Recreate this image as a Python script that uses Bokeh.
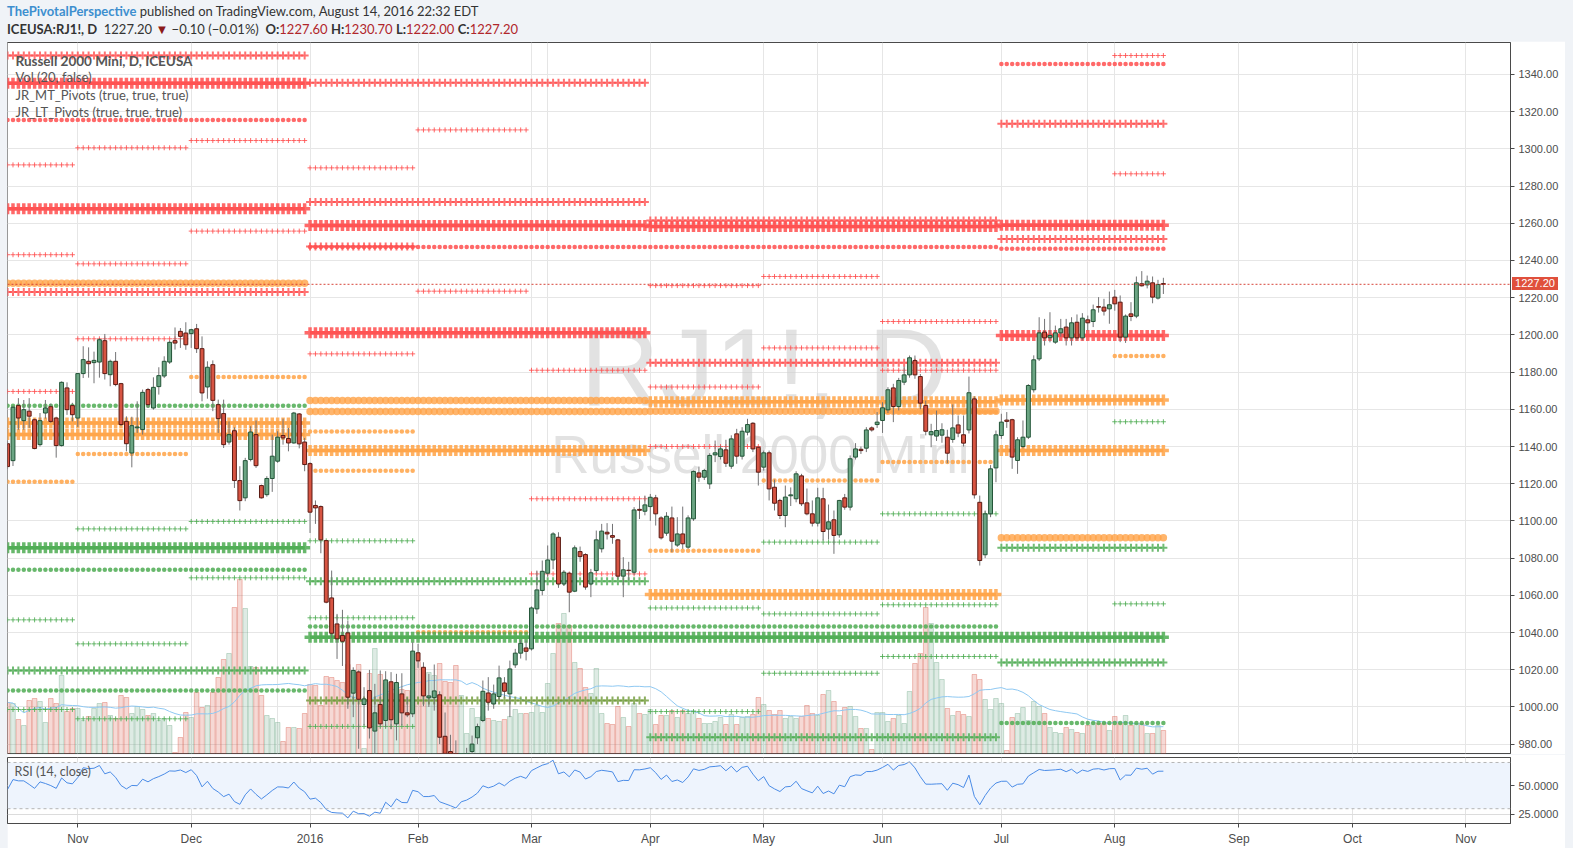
import numpy as np
import pandas as pd
from bokeh.plotting import figure
from bokeh.models import (Range1d, FixedTicker, Grid, Span, BoxAnnotation, Label, Div,
                          NumeralTickFormatter)
from bokeh.layouts import column
from bokeh.embed import file_html
from bokeh.resources import INLINE

# ---------------- data ----------------
# bar index 0 = 2015-10-14 ... 214 = 2016-08-12 (trading days)
OPEN = [1141.5, 1132.4, 1162, 1153.9, 1159, 1154.4, 1141, 1158, 1161.4, 1155.3,
        1140.5, 1171.5, 1162, 1155.3, 1179.2, 1185.8, 1185.1, 1185.4, 1196.9, 1178.6,
        1185.8, 1173.8, 1153.5, 1136.5, 1150, 1149.1, 1170.6, 1160.7, 1172.2, 1177.9,
        1185.4, 1196.9, 1201.9, 1201, 1200.7, 1203.3, 1192.6, 1172, 1184, 1162.5,
        1157.7, 1142.4, 1148.5, 1121.7, 1112.4, 1133, 1146.4, 1119, 1114.1, 1122.8,
        1132.1, 1145.9, 1144.3, 1141.9, 1157.5, 1142.4, 1130.8, 1108.3, 1107.7, 1089.4,
        1058.6, 1044.6, 1038.4, 1039.8, 1007.4, 1018.8, 1001.3, 1008.8, 987, 1001.3,
        992.7, 1013.5, 990.9, 1007, 996.8, 996.3, 1029.1, 1021.3, 1004.9, 1005,
        1006.5, 984.2, 976, 965, 957, 970, 976, 983.4, 992.7, 1007.5,
        1001.6, 1005.6, 1012.9, 1007, 1022.6, 1028.9, 1031.7, 1031.2, 1052.7, 1062.6,
        1071.9, 1079, 1091.2, 1066.1, 1071.9, 1062.2, 1083.5, 1081.9, 1066.1, 1073.3,
        1085, 1093.9, 1092.1, 1089.8, 1070.3, 1073.5, 1072.4, 1106.2, 1105.2, 1107.7,
        1112.4, 1101.6, 1093.4, 1101.6, 1087, 1093, 1085.9, 1101.1, 1125.8, 1123.5,
        1119.9, 1135.5, 1134.6, 1138.2, 1129.4, 1146.8, 1134.8, 1147.7, 1152.5, 1139.6,
        1128.9, 1136.6, 1118.1, 1111, 1102.9, 1113.5, 1111.9, 1124.2, 1109.7, 1103.8,
        1098.8, 1111.9, 1095.6, 1100.6, 1092.5, 1112.4, 1107.4, 1134.3, 1138.5, 1139.1,
        1150, 1151.8, 1154, 1159.7, 1171.5, 1161.5, 1174.6, 1178.5, 1186.2, 1177.6,
        1162, 1146.3, 1145.6, 1146.1, 1145, 1143.8, 1151.6, 1146.3, 1148.9, 1165.6,
        1110, 1081.8, 1103.8, 1128.5, 1145.9, 1154.2, 1154.4, 1132.5, 1140, 1145,
        1170.5, 1187.1, 1201.5, 1198.5, 1196.1, 1201.1, 1204.2, 1198.4, 1206.8, 1198.4,
        1208.1, 1207.2, 1215.2, 1214.9, 1214, 1220.3, 1217.6, 1198.8, 1211.3, 1210.1,
        1227.5, 1226.9, 1228, 1219.8, 1227.6]
HIGH = [1143, 1162, 1166, 1165, 1166, 1155, 1158, 1165, 1163, 1156,
        1175, 1174.5, 1163.5, 1179.5, 1193.9, 1193.3, 1191, 1198.3, 1200.5, 1186.7,
        1190.8, 1174.2, 1156.2, 1156, 1164.3, 1170.6, 1171.5, 1177.2, 1182.6, 1188.5,
        1196.9, 1204, 1203.7, 1206.8, 1203.3, 1205.9, 1199.2, 1185.8, 1186.3, 1165.2,
        1165.2, 1153.5, 1150.3, 1129.4, 1133.9, 1150.9, 1154, 1119.5, 1124, 1146.4,
        1148.2, 1155, 1150, 1158.6, 1158, 1144.6, 1131.5, 1111, 1108.3, 1089.8,
        1073.3, 1050, 1052.2, 1046.4, 1021.3, 1019.6, 1010.6, 1019.9, 1012.4, 1019.6,
        1019.2, 1018.7, 1017.8, 1018.1, 1005, 1034.8, 1033.9, 1024, 1017.8, 1022.8,
        1008.4, 997, 985, 982, 972, 978, 984.6, 991, 1014.2, 1016,
        1012, 1022.2, 1016, 1024.9, 1031.2, 1036, 1035.7, 1054, 1073.3, 1078.7,
        1086.8, 1093.9, 1093.9, 1073.5, 1072.4, 1086.8, 1086.2, 1082.6, 1074.2, 1094.8,
        1098.4, 1098.8, 1098.4, 1090.3, 1080.5, 1078, 1107.4, 1111, 1113.6, 1114.5,
        1114, 1102.5, 1104.7, 1107.7, 1102, 1107.7, 1103, 1127.1, 1129.2, 1128,
        1136.4, 1143.2, 1140.5, 1143.6, 1146, 1149.5, 1150.4, 1154.9, 1153.1, 1140,
        1137.8, 1137.8, 1122.2, 1111.9, 1119, 1118, 1126.7, 1125.3, 1117.4, 1111,
        1117.8, 1117.8, 1108.8, 1105.6, 1111.3, 1114.5, 1135.2, 1141.8, 1140, 1150.4,
        1150.8, 1158.5, 1163.8, 1171.9, 1173.7, 1176.9, 1183, 1188.9, 1188.9, 1179,
        1164.7, 1152.2, 1159.3, 1152.5, 1149, 1162.6, 1156.7, 1156.7, 1177.6, 1167,
        1113.6, 1105.6, 1130, 1148.6, 1157.6, 1158.5, 1154.9, 1145, 1154, 1173.5,
        1189, 1209.5, 1208.6, 1212.2, 1205, 1208.6, 1208.6, 1209.5, 1211, 1211.7,
        1210.4, 1216.3, 1220.3, 1219.4, 1223.3, 1224.2, 1221.2, 1211, 1217.6, 1231.4,
        1234.3, 1231.9, 1231.4, 1229.6, 1230.7]
LOW = [1128, 1129.5, 1149, 1149, 1150, 1138.5, 1140, 1155, 1152.7, 1134,
       1140, 1157, 1153.5, 1150.5, 1176.8, 1177, 1174, 1177, 1176, 1172.4,
       1172.4, 1151, 1137.4, 1128.8, 1147.3, 1146.4, 1160.7, 1159.8, 1167.9, 1176.8,
       1184.4, 1192.1, 1193, 1192, 1193, 1190.3, 1164.3, 1165.7, 1159, 1147.3,
       1139.2, 1141, 1117.7, 1105.6, 1110.6, 1132, 1128.5, 1112, 1113, 1115.6,
       1131.2, 1141, 1137.4, 1141.5, 1139, 1126.7, 1093.5, 1098.4, 1082.6, 1055.7,
       1037, 1025.8, 1022, 999, 994.5, 977.5, 990, 983, 973, 989,
       989, 988, 982, 990, 994.5, 994.5, 1021, 1000.4, 1000, 998,
       980, 968, 960, 945, 950, 963, 970, 980, 991.8, 998,
       999, 1003.4, 1005, 994.5, 1021, 1026, 1025, 1030.3, 1050, 1060,
       1070, 1074, 1064, 1065, 1050.9, 1061.7, 1078, 1063, 1059, 1072,
       1083, 1090, 1087.7, 1069, 1059, 1068, 1071, 1101, 1103, 1100,
       1097.5, 1090, 1092, 1083.2, 1086, 1085, 1085, 1100, 1121, 1122,
       1117.2, 1131.6, 1133, 1129, 1128, 1130.7, 1133, 1146, 1137, 1119,
       1127, 1111, 1105.6, 1101, 1096.6, 1108, 1110, 1108, 1103, 1097,
       1097, 1089.5, 1090, 1082.3, 1091, 1106, 1105.6, 1133, 1136, 1137,
       1148, 1150, 1147.3, 1158, 1153.1, 1159.4, 1173, 1177, 1176.4, 1160,
       1146, 1139.6, 1143, 1142, 1131, 1142, 1145, 1140, 1147, 1112,
       1076, 1080, 1102, 1120.8, 1144.1, 1150, 1128, 1125.3, 1139, 1144,
       1169, 1186, 1194.3, 1196, 1195.2, 1199, 1194.3, 1194.3, 1197, 1197,
       1202.4, 1204.2, 1212, 1210.4, 1206, 1213, 1196.1, 1195.7, 1207.4, 1209,
       1226, 1225, 1217, 1219, 1222]
CLOSE = [1129.2, 1161.1, 1155.3, 1159.8, 1156.3, 1138.9, 1153.9, 1160.7, 1153.5, 1140.5,
         1174.5, 1159.8, 1157.1, 1179.2, 1186.7, 1184.5, 1186.3, 1197.4, 1179.2, 1185.8,
         1173.3, 1151.8, 1141.5, 1151.2, 1150.5, 1169.1, 1162.5, 1171.8, 1178.1, 1185.8,
         1196, 1195.6, 1199.2, 1194.7, 1202.8, 1192.6, 1168.8, 1182.6, 1164.8, 1155,
         1141, 1146.4, 1121.7, 1110.9, 1132.4, 1147.8, 1129.7, 1112.4, 1122.8, 1134.8,
         1145, 1144.6, 1141.9, 1158, 1141.4, 1130.3, 1104.7, 1107, 1089.8, 1056.3,
         1039.6, 1036.6, 1035.3, 1005.2, 1019.6, 1004.1, 1004.3, 988.7, 996.8, 990.9,
         1014.5, 993.1, 1013.1, 996.8, 995.7, 1030, 1024.8, 1005.9, 1005.9, 1008.6,
         983.7, 975, 966, 955, 969, 973, 980, 989.4, 1008.4, 1002.5,
         1007, 1015.6, 1008.4, 1020.4, 1028.9, 1034.2, 1029.9, 1053.2, 1062.9, 1072.9,
         1079, 1093, 1066.1, 1072.4, 1061.7, 1085.5, 1080.8, 1064.4, 1072.1, 1089.8,
         1094.5, 1093, 1091.2, 1070.3, 1073.7, 1073.3, 1105.9, 1105.7, 1108.6, 1112.7,
         1103.8, 1090.9, 1102.5, 1089.1, 1093, 1087.7, 1101.6, 1126.6, 1123.5, 1127.1,
         1135.2, 1136.6, 1138.7, 1131, 1144.1, 1134.8, 1148.2, 1151.8, 1138.7, 1126.2,
         1136.6, 1117.2, 1109.5, 1102.9, 1112.8, 1114, 1125.3, 1109.2, 1103.8, 1098.8,
         1112.4, 1094.3, 1099.5, 1092.2, 1111, 1107.4, 1133.4, 1138.7, 1137.8, 1148.9,
         1148.9, 1153.1, 1160.8, 1170.5, 1161.5, 1175.5, 1178.5, 1187.7, 1178.5, 1163.3,
         1148.2, 1148, 1148.6, 1149, 1136.4, 1150, 1147.2, 1141.8, 1168.9, 1114,
         1078.7, 1103.8, 1128, 1146.3, 1153.1, 1153.5, 1134.3, 1143.6, 1145, 1172.8,
         1186.6, 1201.1, 1198.4, 1199.7, 1201.1, 1203.3, 1198.4, 1206.5, 1198.4, 1209,
         1206.5, 1213.5, 1214.9, 1212.8, 1216.2, 1216.7, 1198.8, 1210.1, 1209.9, 1228,
         1226.4, 1228.9, 1220.3, 1227.1, 1227.2]
VOLUME_K = [51, 50, 34, 28, 53, 55, 52, 31, 55, 50,
            78, 42, 45, 45, 33, 37, 45, 50, 51, 38,
            35, 58, 56, 40, 47, 44, 38, 40, 33, 35,
            28, 1, 16, 41, 36, 61, 46, 48, 61, 76,
            94, 100, 146, 174, 145, 87, 86, 58, 38, 35,
            31, 12, 26, 26, 25, 40, 69, 68, 48, 77,
            76, 73, 71, 89, 83, 89, 5, 80, 105, 79,
            70, 60, 66, 64, 63, 63, 92, 73, 81, 78,
            90, 72, 71, 88, 58, 20, 45, 36, 37, 35,
            33, 32, 34, 37, 44, 40, 40, 41, 48, 41,
            70, 100, 130, 140, 128, 91, 85, 66, 60, 85,
            40, 30, 29, 47, 36, 27, 50, 40, 39, 44,
            29, 38, 38, 43, 36, 43, 40, 43, 35, 30,
            30, 32, 36, 29, 39, 29, 36, 37, 39, 56,
            49, 43, 39, 43, 35, 37, 35, 37, 48, 40,
            38, 59, 63, 52, 38, 46, 47, 37, 25, 25,
            4, 41, 41, 32, 35, 38, 30, 62, 90, 100,
            146, 130, 91, 74, 45, 38, 42, 39, 37, 79,
            74, 54, 44, 55, 50, 3, 36, 40, 46, 33,
            52, 47, 40, 26, 21, 20, 26, 24, 21, 20,
            28, 31, 30, 30, 23, 37, 30, 38, 28, 30,
            30, 20, 20, 28, 23]
# RSI values for the first 14 bars (before a full 14-bar window exists)
RSI_HEAD = [46.7, 55.2, 54.1, 54.1, 51.0, 47.6, 53.2, 51.8, 50.0, 47.6, 56.6, 52.4, 51.5, 57.0]

MONTH_TICKS = [13, 34, 56, 76, 97, 119, 140, 162, 184, 205, 228, 249, 270]
MONTH_LABELS = ["Nov", "Dec", "2016", "Feb", "Mar", "Apr", "May", "Jun", "Jul", "Aug", "Sep", "Oct", "Nov"]
PRICE_TICKS = list(range(980, 1341, 20))
LAST_PRICE = 1227.20

# pivot periods (first bar, last bar)
PERIODS = {"Q4": (0, 55), "OCT": (0, 12), "NOV": (13, 33), "DEC": (34, 55),
           "Q1": (56, 118), "JAN": (56, 75), "FEB": (76, 96), "MAR": (97, 118),
           "Q2": (119, 183), "APR": (119, 139), "MAY": (140, 161), "JUN": (162, 183),
           "Q3": (184, 214), "AUG": (205, 214)}
# pivot levels: period, level, side (R resistance / P pivot zone / S support / V mixed), rank
PIV_PERIOD = ["Q4"] * 13 + ["Q1"] * 12 + ["Q2"] * 10 + ["Q3"] * 13 + \
    ["OCT"] * 6 + ["NOV"] * 7 + ["DEC"] * 5 + ["JAN"] * 8 + ["FEB"] * 3 + ["MAR"] * 3 + \
    ["APR"] * 6 + ["MAY"] * 6 + ["JUN"] * 7 + ["AUG"] * 5
PIV_LEVEL = [1350.2, 1335.3, 1315.6, 1267.8, 1227.8, 1223.0, 1161.9, 1152.7, 1146.5, 1085.5, 1073.7, 1019.6, 1008.8,
             1335.5, 1271.5, 1258.8, 1247.2, 1201.1, 1164.7, 1158.8, 1137.8, 1067.6, 1043.2, 1037.5, 1003.4,
             1261.5, 1258.3, 1247.2, 1185.0, 1164.0, 1159.0, 1060.4, 1043.2, 1037.5, 983.7,
             1345.7, 1313.5, 1259.0, 1251.6, 1246.3, 1199.7, 1165.0, 1137.8, 1090.9, 1085.5, 1037.5, 1023.9, 991.4,
             1291.4, 1243.1, 1169.6, 1121.0, 1046.8, 998.6,
             1300.6, 1238.2, 1197.9, 1136.0, 1095.7, 1033.9, 993.6,
             1304.5, 1255.8, 1177.3, 1099.7, 1069.4,
             1289.8, 1247.5, 1189.8, 1148.0, 1127.0, 1089.3, 1047.9, 989.5,
             1310.2, 1223.5, 1040.2,
             1181.0, 1111.9, 1071.5,
             1226.5, 1172.0, 1140.0, 1084.0, 1053.2, 997.5,
             1231.4, 1193.0, 1121.7, 1088.6, 1050.0, 1018.1,
             1207.2, 1181.0, 1158.6, 1131.6, 1103.8, 1054.9, 1027.1,
             1350.2, 1286.6, 1188.7, 1153.3, 1055.4]
PIV_SIDE = ["R", "R", "R", "R", "P", "R", "S", "P", "P", "S", "S", "S", "S",
            "R", "R", "R", "R", "R", "P", "P", "P", "S", "S", "S", "V",
            "R", "R", "R", "R", "P", "P", "P", "S", "S", "S",
            "R", "R", "R", "R", "R", "R", "P", "P", "P", "S", "S", "S", "S",
            "R", "R", "R", "P", "S", "S",
            "R", "R", "R", "P", "S", "S", "S",
            "R", "R", "P", "S", "S",
            "R", "R", "R", "P", "P", "S", "S", "S",
            "R", "R", "P",
            "R", "R", "R",
            "R", "R", "R", "P", "S", "S",
            "R", "R", "P", "S", "S", "S",
            "R", "R", "P", "P", "S", "S", "S",
            "R", "R", "P", "S", "S"]
PIV_RANK = [4, 5, 2, 5, 3, 4, 2, 5, 5, 5, 2, 4, 2,
            4, 4, 5, 2, 5, 3, 3, 5, 4, 2, 5, 4,
            4, 5, 2, 4, 5, 3, 5, 2, 5, 4,
            2, 4, 5, 4, 2, 5, 5, 5, 3, 4, 5, 4, 2,
            1, 1, 1, 2, 1, 1,
            1, 1, 1, 2, 1, 1, 1,
            1, 1, 2, 1, 1,
            1, 4, 1, 2, 2, 1, 1, 1,
            1, 1, 2,
            1, 1, 1,
            1, 1, 1, 2, 1, 1,
            1, 1, 2, 1, 1, 1,
            1, 1, 2, 2, 1, 1, 1,
            1, 1, 2, 1, 1]

# ---------------- styling ----------------
UP_FILL, DN_FILL = "#6ba583", "#d75442"
UP_LINE, DN_LINE = "#225437", "#5b1a13"
WICK = "#737375"
SIDE_COLOR = {"R": "#ff4f4f", "P": "#ffa347", "S": "#4dab52", "V": "#6f9a38"}
# rank -> marker, size, line width, alpha
RANK_STYLE = {1: ("cross", 5, 1.0, 0.85), 2: ("circle", 4.5, 0, 0.85), 3: ("circle", 7.5, 0, 0.8),
              4: ("cross", 8, 2.0, 0.8), 5: ("cross", 11, 3.5, 0.85)}
AX_FONT = "Liberation Sans"
TXT_FONT = "Lato"
FRAME_COL = "#4a4a4a"
PAGE_BG = "#f0f3f7"

n = len(CLOSE)
idx = np.arange(n)
O = np.array(OPEN, float)
H = np.array(HIGH, float)
L = np.array(LOW, float)
C = np.array(CLOSE, float)
V = np.array(VOLUME_K, float)
up = C >= O

x_range = Range1d(-0.017, 278.27)

p = figure(width=1558, height=713, x_range=x_range, y_range=Range1d(974.95, 1357.2),
           output_backend="svg", toolbar_location=None, x_axis_location=None,
           y_axis_location="right", min_border_left=0, min_border_right=55,
           min_border_top=1, min_border_bottom=1, outline_line_color=FRAME_COL,
           background_fill_color="white", border_fill_color="white", margin=(0, 0, 0, 7))
p.extra_y_ranges = {"vol": Range1d(0, 711)}

def style_axis(ax):
    ax.axis_line_color = FRAME_COL
    ax.major_tick_line_color = FRAME_COL
    ax.major_tick_out = 4
    ax.major_tick_in = 0
    ax.minor_tick_line_color = None
    ax.major_label_text_font = AX_FONT
    ax.major_label_text_font_size = "11px"
    ax.major_label_text_color = "#4d4d4d"
    ax.major_label_standoff = 4

p.yaxis.ticker = FixedTicker(ticks=PRICE_TICKS)
p.yaxis.formatter = NumeralTickFormatter(format="0.00")
style_axis(p.yaxis[0])
p.ygrid.grid_line_color = "#e6e6e6"
p.add_layout(Grid(dimension=0, ticker=FixedTicker(ticks=MONTH_TICKS), grid_line_color="#e6e6e6"))

# watermark
p.add_layout(Label(x=140.0, y=1183.0, text="RJ1!, D", text_align="center", text_baseline="middle",
                   text_font=AX_FONT, text_font_size="110px", text_color="#cfcfcf", text_alpha=0.6,
                   level="underlay"))
p.add_layout(Label(x=139.4, y=1135.5, text="Russell 2000 Mini", text_align="center",
                   text_baseline="middle", text_font=AX_FONT, text_font_size="53px",
                   text_color="#cfcfcf", text_alpha=0.6, level="underlay"))

# volume
vcol = np.where(up, UP_FILL, DN_FILL)
p.vbar(x=idx, width=0.85, top=V, bottom=0, y_range_name="vol", fill_color=vcol, fill_alpha=0.22,
       line_color=vcol, line_alpha=0.35, line_width=1)
vma = pd.Series(V).rolling(20, min_periods=1).mean().to_numpy()
p.line(idx, vma, y_range_name="vol", line_color="#8ec8f2", line_width=1)

# pivots
groups = {}
for per, lvl, side, rank in zip(PIV_PERIOD, PIV_LEVEL, PIV_SIDE, PIV_RANK):
    a, b = PERIODS[per]
    xs = list(range(a, b + 1))
    g = groups.setdefault((side, rank), ([], []))
    g[0].extend(xs)
    g[1].extend([lvl] * len(xs))
for rank in [2, 3, 1, 4, 5]:
    for side in ["S", "V", "P", "R"]:
        if (side, rank) not in groups:
            continue
        xs, ys = groups[(side, rank)]
        marker, size, lw, alpha = RANK_STYLE[rank]
        col = SIDE_COLOR[side]
        if marker == "circle":
            p.scatter(xs, ys, marker="circle", size=size, fill_color=col, fill_alpha=alpha,
                      line_color=None)
        else:
            p.scatter(xs, ys, marker="cross", size=size, line_color=col, line_width=lw,
                      line_alpha=alpha)

# candles
p.segment(x0=idx, y0=L, x1=idx, y1=H, line_color=WICK, line_width=1)
p.vbar(x=idx, width=0.72, top=np.maximum(O, C), bottom=np.minimum(O, C),
       fill_color=np.where(up, UP_FILL, DN_FILL), line_color=np.where(up, UP_LINE, DN_LINE),
       line_width=1)

# last price line
p.add_layout(Span(location=LAST_PRICE, dimension="width", line_color="#d6453a",
                  line_dash="2 2", line_width=1))

# legend texts
legend_texts = ["Russell 2000 Mini, D, ICEUSA", "Vol (20, false)",
                "JR_MT_Pivots (true, true, true)", "JR_LT_Pivots (true, true, true)"]
legend_y = [1347.5, 1338.4, 1329.2, 1320.1]
for k, (t, yy) in enumerate(zip(legend_texts, legend_y)):
    p.add_layout(Label(x=1.46, y=yy, text=t, text_baseline="middle", text_font=TXT_FONT,
                       text_font_size="13.5px" if k == 0 else "13px", text_color="#555555",
                       text_font_style="bold" if k == 0 else "normal"))

# ---------------- RSI pane ----------------
d = np.diff(C)
gains = np.where(d > 0, d, 0.0)
losses = np.where(d < 0, -d, 0.0)
rsi = np.full(n, np.nan)
rsi[:14] = RSI_HEAD
ag, al = gains[:14].mean(), losses[:14].mean()
rsi[14] = 100 - 100 / (1 + ag / al)
for k in range(15, n):
    ag = (ag * 13 + gains[k - 1]) / 14
    al = (al * 13 + losses[k - 1]) / 14
    rsi[k] = 100 - 100 / (1 + ag / al)

r = figure(width=1558, height=94, x_range=x_range, y_range=Range1d(17.2, 74.3),
           output_backend="svg", toolbar_location=None, y_axis_location="right",
           min_border_left=0, min_border_right=55, min_border_top=3, min_border_bottom=24,
           outline_line_color=FRAME_COL, background_fill_color="white",
           border_fill_color="white", margin=(0, 0, 0, 7))
r.add_layout(BoxAnnotation(bottom=30, top=70, fill_color="#eef4fd", fill_alpha=1.0,
                           line_color=None, level="underlay"))
r.yaxis.ticker = FixedTicker(ticks=[25, 50])
r.yaxis.formatter = NumeralTickFormatter(format="0.0000")
r.xaxis.ticker = FixedTicker(ticks=MONTH_TICKS)
r.xaxis.major_label_overrides = {t: lab for t, lab in zip(MONTH_TICKS, MONTH_LABELS)}
style_axis(r.yaxis[0])
style_axis(r.xaxis[0])
r.xaxis.major_label_text_font_size = "12px"
r.xgrid.grid_line_color = "#e3e3e3"
r.ygrid.grid_line_color = "#dcdcdc"
for lvl in (70, 30):
    r.add_layout(Span(location=lvl, dimension="width", line_color="#b4b4b4", line_dash="3 3",
                      line_width=1))
r.line(idx, rsi, line_color="#4a8be6", line_width=1)
r.add_layout(Label(x=1.3, y=62.5, text="RSI (14, close)", text_baseline="middle",
                   text_font=TXT_FONT, text_font_size="12.5px", text_color="#555555"))

# ---------------- header ----------------
red = "#b0262b"
header_html = (
    '<div style="font-family:Lato, sans-serif; font-size:13px; line-height:18px; color:#333;'
    ' padding:2px 0 0 7px;">'
    '<div><span style="color:#3d8fcf; font-weight:bold;">ThePivotalPerspective</span>'
    ' published on TradingView.com, August 14, 2016 22:32 EDT</div>'
    '<div><b>ICEUSA:RJ1!, D</b>&nbsp; 1227.20 '
    '<span style="color:#8b1a1a;">&#9660;</span> &minus;0.10 (&minus;0.01&#37;) &nbsp;'
    '<b>O:</b><span style="color:RED;">1227.60</span> <b>H:</b><span style="color:RED;">1230.70</span> '
    '<b>L:</b><span style="color:RED;">1222.00</span> <b>C:</b><span style="color:RED;">1227.20</span>'
    '</div></div>').replace("RED", red)
header = Div(text=header_html, width=1573, height=41, margin=(0, 0, 0, 0))

# last-price tag sitting on the price scale
tag = Div(text="%.2f" % LAST_PRICE, width=46, height=13, margin=(0, 0, 0, 0),
          styles={"position": "absolute", "left": "1512px", "top": "277px",
                  "background-color": "#e0503c", "color": "#ffffff",
                  "font-family": "Liberation Sans, sans-serif", "font-size": "11px",
                  "line-height": "13px", "text-align": "center", "z-index": "10"})

layout = column(header, p, r, tag, styles={"background-color": PAGE_BG, "position": "relative"})

html = file_html(layout, INLINE, title="RJ1! D")
with open("out.html", "w", encoding="utf-8") as f:
    f.write(html)
